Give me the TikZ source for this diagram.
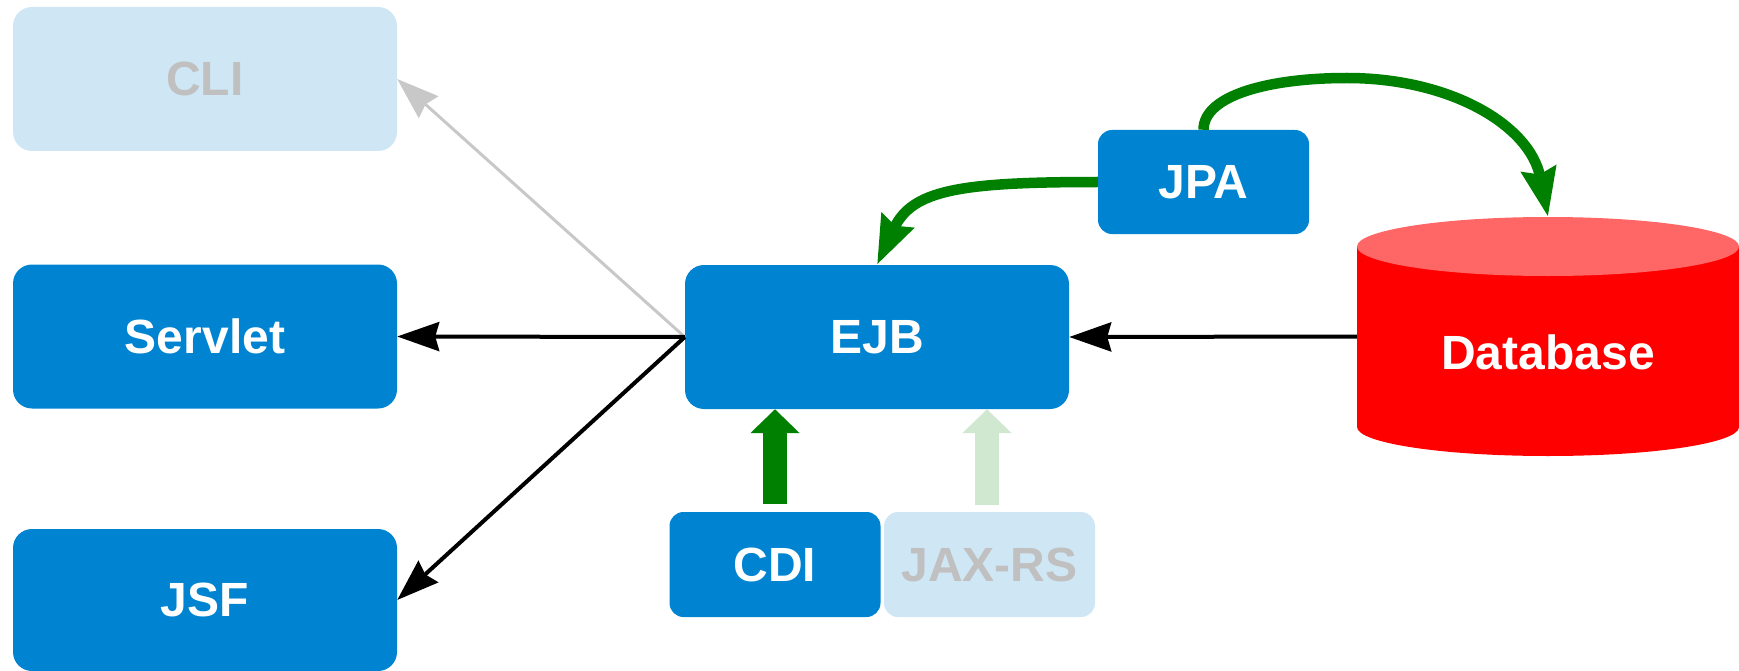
\documentclass[tikz,border=0pt]{standalone}
\usepackage{fontspec}
\setmainfont{Liberation Sans}
\usetikzlibrary{arrows.meta}
\definecolor{blu}{HTML}{0084D1}
\definecolor{lblu}{HTML}{CFE6F5}
\definecolor{gtext}{HTML}{C0C0C0}
\definecolor{garrow}{HTML}{C8C8C8}
\definecolor{grn}{HTML}{008000}
\definecolor{lgrn}{HTML}{D0E8D0}
\definecolor{dbred}{HTML}{FF0000}
\definecolor{dbtop}{HTML}{FF6666}
\begin{document}
\begin{tikzpicture}[x=1pt,y=-1pt,
  txt/.style={font=\bfseries\fontsize{48}{56}\selectfont},
  bigbox/.style={txt, rounded corners=19pt, fill=blu, text=white, minimum width=384pt, minimum height=144pt, inner sep=0pt},
  smallbox/.style={txt, rounded corners=14pt, fill=blu, text=white, minimum width=211pt, minimum height=105pt, inner sep=0pt},
  faded/.style={fill=lblu, text=gtext},
  blk/.style={line width=4pt, -{Stealth[length=42pt,width=29pt,inset=4pt]}},
  gry/.style={line width=3pt, draw=garrow, -{Stealth[length=42pt,width=29pt,inset=4pt]}},
  grnarrow/.style={line width=10.5pt, draw=grn, -{Stealth[length=48pt,width=34pt,inset=5pt]}},
  blockarrow/.style={line width=24pt, -{Triangle[length=24pt,width=48pt]}}]
\useasboundingbox (0,0) rectangle (1739,671);

% nodes
\node[bigbox, faded] (cli) at (205,79) {CLI};
\node[bigbox] (servlet) at (205,336.5) {Servlet};
\node[bigbox, minimum height=142pt] (jsf) at (205,600) {JSF};
\node[bigbox] (ejb) at (877,337) {EJB};
\node[smallbox, minimum height=104pt] (jpa) at (1203.5,182) {JPA};
\node[smallbox] (cdi) at (775,564.5) {CDI};
\node[smallbox, faded] (jaxrs) at (989.5,564.5) {JAX-RS};

% database cylinder
\node[minimum width=382pt, minimum height=239pt, inner sep=0pt] (db) at (1548,336.5) {};
\fill[dbred] (1357,246.5) rectangle (1739,427);
\fill[dbred] (1548,427) ellipse[x radius=191, y radius=29];
\fill[dbtop] (1548,246.5) ellipse[x radius=191, y radius=29.5];
\node[txt, text=white] (dbtext) at (1548,352) {Database};

% connectors
\draw[gry] (ejb.west) -- (cli.east);
\draw[blk] (ejb.west) -- (servlet.east);
\draw[blk] (ejb.west) -- (jsf.east);
\draw[blk] (db.west) -- (ejb.east);

\draw[grnarrow] (jpa.west) .. controls (960,182) and (912,190) .. (ejb.north);
\draw[grnarrow] (jpa.north) .. controls (1203.5,95) and (1270,78) .. (1347,78)
  .. controls (1450,78) and (1530,125) .. (db.north);

\coordinate (cdiarrowbase) at ([yshift=7.5pt]cdi.north);
\coordinate (jaxarrowbase) at (987,505);
\draw[blockarrow, draw=grn] (cdiarrowbase) -- (cdiarrowbase |- ejb.south);
\draw[blockarrow, draw=lgrn] (jaxarrowbase) -- (jaxarrowbase |- ejb.south);
\end{tikzpicture}
\end{document}
